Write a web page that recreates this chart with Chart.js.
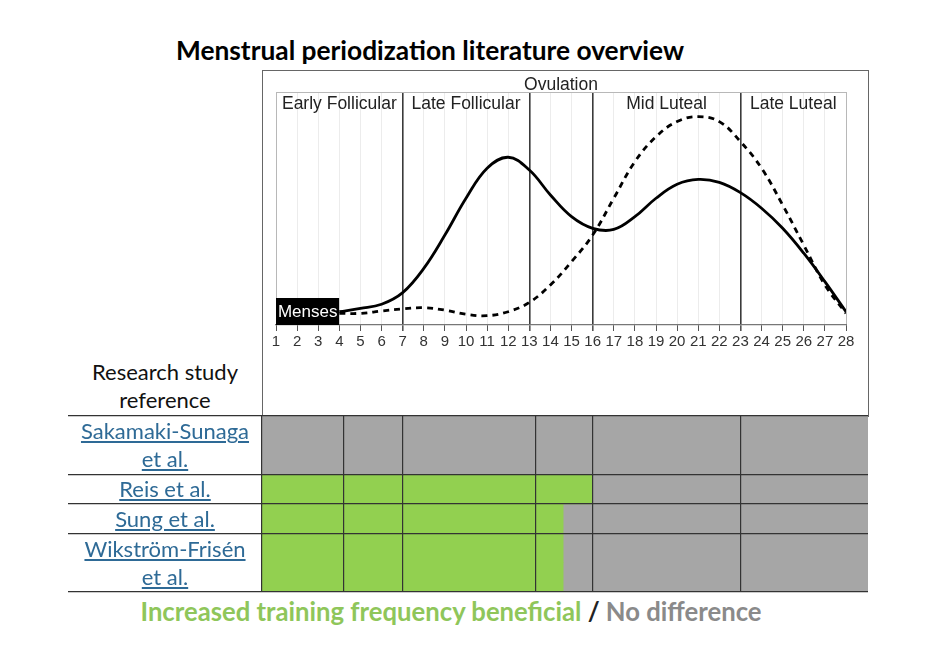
<!DOCTYPE html>
<html>
<head>
<meta charset="utf-8">
<script src="https://cdn.jsdelivr.net/npm/chart.js@4.4.1/dist/chart.umd.min.js"></script>
<style>
  body { margin: 0; width: 927px; height: 650px; position: relative; overflow: hidden; background: #fff; font-family: Lato, "Open Sans", sans-serif; }
  .abs { position: absolute; }
  #title { left: 0; width: 860px; top: 35px; line-height: 30px; text-align: center; font-weight: bold; font-size: 26.3px; color: #000; }
  #imgBox { left: 262px; top: 70px; width: 605px; height: 346px; border: 1px solid #666; border-bottom: none; }
  #head { left: 68px; width: 194px; top: 358px; text-align: center; font-size: 22px; line-height: 28px; color: #111; }
  .study { left: 68px; width: 194px; text-align: center; font-size: 22px; line-height: 28px; color: #2e6a96; text-decoration: underline; }
  #foot { left: 0; width: 902px; top: 596px; line-height: 31px; text-align: center; font-weight: bold; font-size: 25.7px; }
</style>
</head>
<body>
<div id="title" class="abs">Menstrual periodization literature overview</div>
<div id="imgBox" class="abs"></div>
<canvas id="cycleChart" class="abs" width="606" height="346" style="left:262px;top:70px"></canvas>
<div id="head" class="abs">Research study<br>reference</div>
<canvas id="studyChart" class="abs" width="800" height="180" style="left:68px;top:414px"></canvas>
<div id="foot" class="abs"><span style="color:#8fc65a">Increased training frequency beneficial</span> <span style="color:#222">/</span> <span style="color:#8a8a8a">No difference</span></div>

<script>
// cycle days and hormone curves (relative units, 0 = axis, 100 = top of plot)
const days = [1,2,3,4,5,6,7,8,9,10,11,12,13,14,15,16,17,18,19,20,21,22,23,24,25,26,27,28]
const solidCurve = [null,null,null,5.7,7.1,8.9,13.9,24.3,38.6,54.4,67.3,72,66.5,55.8,46.5,41.5,41,46.5,54.4,60.4,62.5,61.2,56.8,50.1,41.5,30.8,18.6,5.7]
const dashedCurve = [null,null,null,5.0,5.0,6.0,6.9,7.4,6.4,4.6,4.0,5.7,9.7,17.2,27.2,38.6,54.4,70.1,80.8,87.3,89.4,87.3,78.7,67.3,51.5,34.3,17.2,5.0]
const mensesDays = [1, 4]
const mensesHeight = 11.6

const phaseNames = ['Early Follicular', 'Late Follicular', 'Ovulation', 'Mid Luteal', 'Late Luteal']
const phaseBounds = [1, 7, 13, 16, 23, 28]

// study table
const studyLines = [['Sakamaki-Sunaga', 'et al.'], ['Reis et al.'], ['Sung et al.'], ['Wikström-Frisén', 'et al.']]
const studyRows = [2, 1, 1, 2]
const beneficialUntil = [null, 16, 14.6, 14.6]
const columnBounds = [0.34, 4.2, 7, 13.3, 16, 23]
const tableEnd = 29.04

const pxPerDay = 570 / 27

const phaseLabels = {
  id: 'phaseLabels',
  afterDatasetsDraw(chart) {
    const ctx = chart.ctx, x = chart.scales.x, y = chart.scales.y
    const top = chart.chartArea.top
    ctx.save()
    ctx.textAlign = 'center'
    ctx.textBaseline = 'middle'
    ctx.fillStyle = '#222'
    ctx.font = '17.5px "Liberation Sans", Arial, sans-serif'
    phaseNames.forEach((name, i) => {
      const cx = x.getPixelForValue((phaseBounds[i] + phaseBounds[i + 1]) / 2)
      ctx.fillText(name, cx, name == 'Ovulation' ? top - 7 : top + 12)
    })
    ctx.fillStyle = '#fff'
    ctx.font = '17px "Liberation Sans", Arial, sans-serif'
    ctx.fillText('Menses', x.getPixelForValue((mensesDays[0] + mensesDays[1]) / 2), y.getPixelForValue(mensesHeight / 2) + 1)
    ctx.restore()
  }
}

const darkDays = phaseBounds.slice(1, -1)

new Chart(document.getElementById('cycleChart'), {
  type: 'line',
  data: {
    datasets: [
      {
        label: 'Menses',
        data: mensesDays.map(d => ({x: d, y: mensesHeight})),
        fill: 'origin', backgroundColor: '#000', borderColor: '#000', borderWidth: 0,
        pointRadius: 0, tension: 0
      },
      {
        label: 'solid',
        data: days.map((d, i) => ({x: d, y: solidCurve[i]})),
        borderColor: '#000', borderWidth: 2.8, pointRadius: 0, tension: 0.4, fill: false
      },
      {
        label: 'dashed',
        data: days.map((d, i) => ({x: d, y: dashedCurve[i]})),
        borderColor: '#000', borderWidth: 2.8, borderDash: [6, 5], pointRadius: 0, tension: 0.4, fill: false
      }
    ]
  },
  options: {
    responsive: false,
    animation: false,
    layout: { padding: { left: 14, right: 22, top: 22, bottom: 0 } },
    plugins: { legend: { display: false }, tooltip: { enabled: false } },
    scales: {
      x: {
        type: 'linear', min: 1, max: 28,
        afterBuildTicks: s => { s.ticks = days.map(d => ({value: d})) },
        afterFit: s => { s.height = 91 },
        grid: {
          color: c => darkDays.includes(c.tick.value) ? '#3a3a3a' : (c.tick.value == 1 || c.tick.value == 28 ? '#b8b8b8' : '#ececec'),
          lineWidth: c => darkDays.includes(c.tick.value) ? 1.6 : 1,
          tickColor: '#555', tickLength: 6
        },
        border: { color: '#777', width: 1.2 },
        ticks: { font: { family: '"Liberation Sans", Arial, sans-serif', size: 15 }, color: '#333', padding: 2, maxRotation: 0, autoSkip: false }
      },
      y: {
        min: 0, max: 100,
        afterBuildTicks: s => { s.ticks = [{value: 0}, {value: 100}] },
        afterFit: s => { s.width = 0 },
        grid: { color: c => c.tick.value == 100 ? '#b8b8b8' : 'rgba(0,0,0,0)', drawTicks: false },
        border: { display: false },
        ticks: { display: false }
      }
    }
  },
  plugins: [phaseLabels]
})

// one category row per table line; two-line studies take two rows
const rowStudy = []
studyRows.forEach((n, i) => { for (let k = 0; k < n; k++) rowStudy.push(i) })
const rowBounds = [0]
studyRows.forEach(n => rowBounds.push(rowBounds[rowBounds.length - 1] + n))

const tableChart = new Chart(document.getElementById('studyChart'), {
  type: 'bar',
  data: {
    labels: rowStudy.map((s, k) => 'row' + k),
    datasets: [
      {
        label: 'Increased training frequency beneficial',
        data: rowStudy.map(i => beneficialUntil[i] ? [columnBounds[0], beneficialUntil[i]] : null),
        backgroundColor: '#92d050'
      },
      {
        label: 'No difference',
        data: rowStudy.map(i => [beneficialUntil[i] || columnBounds[0], tableEnd]),
        backgroundColor: '#a6a6a6'
      }
    ]
  },
  options: {
    indexAxis: 'y',
    responsive: false,
    animation: false,
    grouped: false,
    categoryPercentage: 1,
    barPercentage: 1,
    layout: { padding: { top: 2, bottom: 2, left: 0, right: 0 } },
    plugins: { legend: { display: false }, tooltip: { enabled: false } },
    scales: {
      x: {
        type: 'linear',
        min: 1 - (276 - 68) / pxPerDay, max: tableEnd,
        afterBuildTicks: s => { s.ticks = columnBounds.map(v => ({value: v})) },
        afterFit: s => { s.height = 0 },
        grid: { color: '#333', lineWidth: 1.2, drawTicks: false, z: 1 },
        border: { display: false },
        ticks: { display: false }
      },
      y: {
        afterFit: s => { s.width = 0 },
        grid: {
          offset: true, drawTicks: false, z: 1, lineWidth: 1.2,
          color: c => (c.index === undefined || rowBounds.includes(c.index)) ? '#333' : 'rgba(0,0,0,0)'
        },
        border: { display: false },
        ticks: { display: false }
      }
    }
  }
})

// study names, centred on their rows
const ys = tableChart.scales.y
let r0 = 0
studyLines.forEach((lines, i) => {
  const n = studyRows[i]
  const mid = (ys.getPixelForValue(r0) + ys.getPixelForValue(r0 + n - 1)) / 2
  const el = document.createElement('div')
  el.className = 'abs study'
  el.innerHTML = lines.join('<br>')
  document.body.appendChild(el)
  el.style.top = (414 + mid - el.offsetHeight / 2) + 'px'
  r0 += n
})
</script>
</body>
</html>
